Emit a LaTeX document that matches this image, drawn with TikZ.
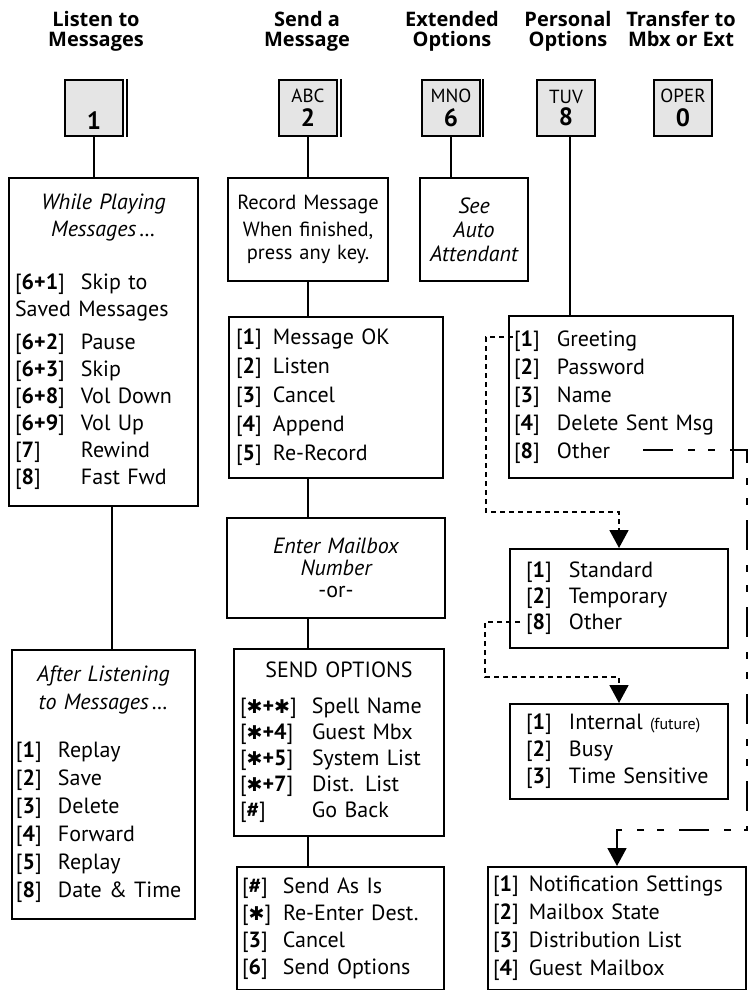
\documentclass[tikz,border=0pt]{standalone}
\usepackage{fontspec}
\setmainfont{PT Sans}
\newfontfamily\headfont{Open Sans}
\newfontfamily\symfont{DejaVu Sans}
\usetikzlibrary{arrows.meta}
\usetikzlibrary{calc}
\tikzset{>=latex}
\tikzstyle{keycap}=[draw,line width=2pt,fill=black!10,minimum width=58pt,minimum height=56pt,inner sep=0pt,align=center,anchor=north west]
\tikzstyle{heading}=[font=\headfont\bfseries\fontsize{20}{20}\selectfont,align=center,anchor=base]
\tikzstyle{menubox}=[draw,line width=2pt,anchor=north west,inner ysep=0pt,align=left,font=\fontsize{22}{27}\selectfont]
\tikzstyle{link}=[line width=2pt]
\tikzstyle{dotlink}=[line width=1.8pt,dash pattern=on 5pt off 4pt,-{Triangle[width=19pt,length=18pt]}]
\tikzstyle{dashdotlink}=[line width=1.8pt,dash pattern=on 30pt off 15pt on 7pt off 13pt on 7pt off 15pt,-{Triangle[width=19pt,length=18pt]}]
\newlength{\optw}
\newcommand{\opt}[2]{\makebox[\optw][l]{[\textbf{#1}]}#2}
\newcommand{\st}{{\symfont\fontsize{19}{19}\selectfont ✱}}
\newcommand{\keyabc}[1]{{\fontsize{19}{19}\selectfont #1}}
\newcommand{\keynum}[1]{{\bfseries\fontsize{25}{25}\selectfont #1}}

\begin{document}
\begin{tikzpicture}[x=1pt,y=-1pt]
  \useasboundingbox (0,0) rectangle (748,990);
  % headings
  \node[heading] (h1) at (96,47) {Listen to\\Messages};
  \node[heading] (h2) at (307,47) {Send a\\Message};
  \node[heading] (h6) at (452,47) {Extended\\Options};
  \node[heading] (h8) at (568,47) {Personal\\Options};
  \node[heading] (h0) at (681,47) {Transfer to\\Mbx or Ext};
  % keys
  \node[keycap] (k1) at (64,79) {\keyabc{\strut}\\[5pt]\keynum{1}};
  \node[keycap] (k2) at (278,79) {\keyabc{ABC}\\[5pt]\keynum{2}};
  \node[keycap] (k6) at (421,79) {\keyabc{MNO}\\[5pt]\keynum{6}};
  \node[keycap] (k8) at (536,79) {\keyabc{TUV}\\[2pt]\keynum{8}};
  \node[keycap] (k0) at (653,79) {\keyabc{OPER}\\[5pt]\keynum{0}};
  \draw[line width=1.2pt] ([xshift=3pt]k1.north east) -- ([xshift=3pt]k1.south east);
  \draw[line width=1.2pt] ([xshift=3pt]k2.north east) -- ([xshift=3pt]k2.south east);
  \draw[line width=1.2pt] ([xshift=2pt]k6.north east) -- ([xshift=2pt]k6.south east);

  % listen column
  \node[menubox,minimum width=189pt,minimum height=328pt,text width=177pt,inner xsep=6pt] (play) at (8,177)
    {\setlength{\optw}{66pt}{\centering\itshape While Playing\\Messages\,\dots\par}\vspace{26pt}
     \opt{6+1}{Skip to}\\Saved Messages\\[6pt]
     \opt{6+2}{Pause}\\\opt{6+3}{Skip}\\\opt{6+8}{Vol Down}\\\opt{6+9}{Vol Up}\\
     \opt{7}{Rewind}\\\opt{8}{Fast Fwd}};
  \node[menubox,minimum width=183pt,minimum height=269pt,text width=175pt,inner xsep=4pt,font=\fontsize{22}{28}\selectfont] (after) at (11,649)
    {\setlength{\optw}{42pt}{\centering\itshape After Listening\\to Messages\,\dots\par}\vspace{20pt}
     \opt{1}{Replay}\\\opt{2}{Save}\\\opt{3}{Delete}\\\opt{4}{Forward}\\\opt{5}{Replay}\\\opt{8}{Date \& Time}};

  % send column
  \node[menubox,minimum width=160pt,minimum height=103pt,text width=156pt,inner xsep=2pt,align=center,font=\fontsize{20.5}{27}\selectfont] (rec) at (227,177)
    {Record Message\\When finished,\\[-4pt]press any key.};
  \node[menubox,minimum width=214pt,minimum height=161pt,text width=200pt,inner xsep=7pt,font=\fontsize{22}{29}\selectfont] (msgok) at (228,316)
    {\setlength{\optw}{37pt}\opt{1}{Message OK}\\\opt{2}{Listen}\\\opt{3}{Cancel}\\\opt{4}{Append}\\\opt{5}{Re-Record}};
  \node[menubox,minimum width=218pt,minimum height=100pt,text width=208pt,inner xsep=5pt,align=center,font=\fontsize{22}{22}\selectfont] (enter) at (226,517)
    {{\itshape Enter Mailbox}\\{\itshape Number}\\-or-};
  \node[menubox,minimum width=210pt,minimum height=187pt,text width=198pt,inner xsep=6pt,font=\fontsize{22}{26}\selectfont] (sendopt) at (233,648)
    {\setlength{\optw}{72pt}{\centering SEND OPTIONS\par}\vspace{10pt}
     \opt{\st+\st}{Spell Name}\\\opt{\st+4}{Guest Mbx}\\\opt{\st+5}{System List}\\\opt{\st+7}{Dist. List}\\\opt{\#}{Go Back}};
  \node[menubox,minimum width=207pt,minimum height=123pt,text width=197pt,inner xsep=5pt] (sendas) at (236,866)
    {\setlength{\optw}{41pt}\opt{\#}{Send As Is}\\\opt{\st}{Re-Enter Dest.}\\\opt{3}{Cancel}\\\opt{6}{Send Options}};

  % extended options
  \node[menubox,minimum width=108pt,minimum height=103pt,text width=100pt,inner xsep=4pt,align=center,font=\itshape\fontsize{22}{24}\selectfont] (see) at (419,177)
    {See\\Auto\\Attendant};

  % personal options
  \node[menubox,minimum width=224pt,minimum height=162pt,text width=214pt,inner xsep=5pt,font=\fontsize{22}{28}\selectfont] (pers) at (508,315)
    {\setlength{\optw}{43pt}\opt{1}{Greeting}\\\opt{2}{Password}\\\opt{3}{Name}\\\opt{4}{Delete Sent Msg}\\\opt{8}{Other}};
  \node[menubox,minimum width=218pt,minimum height=99pt,text width=202pt,inner xsep=8pt,font=\fontsize{22}{26}\selectfont] (std) at (509,548)
    {\setlength{\optw}{43pt}\hspace*{8pt}\opt{1}{Standard}\\\hspace*{8pt}\opt{2}{Temporary}\\\hspace*{8pt}\opt{8}{Other}};
  \node[menubox,minimum width=218pt,minimum height=95pt,text width=202pt,inner xsep=8pt,font=\fontsize{22}{27}\selectfont] (intl) at (509,703)
    {\setlength{\optw}{43pt}\hspace*{8pt}\opt{1}{Internal {\fontsize{16}{16}\selectfont(future)}}\\\hspace*{8pt}\opt{2}{Busy}\\\hspace*{8pt}\opt{3}{Time Sensitive}};
  \node[menubox,minimum width=258pt,minimum height=123pt,text width=248pt,inner xsep=5pt,font=\fontsize{22}{28}\selectfont] (note) at (487,866)
    {\setlength{\optw}{36pt}\opt{1}{Notification Settings}\\\opt{2}{Mailbox State}\\\opt{3}{Distribution List}\\\opt{4}{Guest Mailbox}};

  % connectors
  \draw[link] (k1.south) -- (k1.south |- play.north);
  \draw[link] ([xshift=8pt]play.south) -- ([xshift=8pt]play.south |- after.north);
  \draw[link] (k2.south) -- (k2.south |- rec.north);
  \draw[link] (k2.south |- rec.south) -- (k2.south |- msgok.north);
  \draw[link] (k2.south |- msgok.south) -- (k2.south |- enter.north);
  \draw[link] (k2.south |- enter.south) -- (k2.south |- sendopt.north);
  \draw[link] (k2.south |- sendopt.south) -- (k2.south |- sendas.north);
  \draw[link] (k6.south) -- (k6.south |- see.north);
  \draw[link] ([xshift=4pt]k8.south) -- ([xshift=4pt]k8.south |- pers.north);

  \coordinate (greet) at (513,337);
  \coordinate (other) at (520,622);
  \coordinate (moreopt) at (643,450);
  \draw[dotlink] (greet) -- ++(-27,0) |- ([yshift=36pt]std.north) -- (std.north);
  \draw[dotlink] (other) -- ++(-35,0) |- ([yshift=26pt]intl.north) -- (intl.north);
  \draw[dashdotlink] (moreopt) -- ++(104,0) |- ([yshift=36pt]note.north) -- (note.north);
\end{tikzpicture}
\end{document}
